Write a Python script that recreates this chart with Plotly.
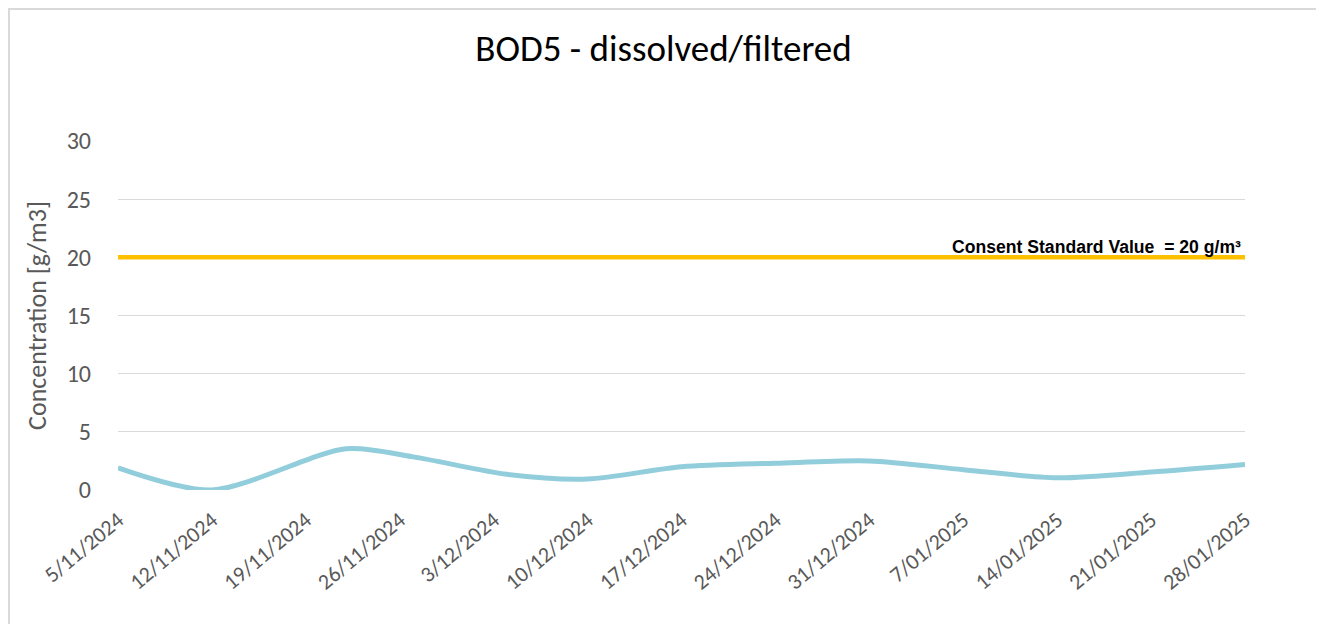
import plotly.graph_objects as go

# sample dates and BOD5 values (g/m3)
dates = ["2024-11-05", "2024-11-12", "2024-11-22", "2024-11-27", "2024-12-04",
         "2024-12-10", "2024-12-17", "2024-12-24", "2024-12-31", "2025-01-07",
         "2025-01-14", "2025-01-21", "2025-01-28"]
bod5 = [1.9, 0.0, 3.55, 2.85, 1.35, 0.95, 2.0, 2.3, 2.5, 1.75, 1.05, 1.55, 2.2]

consent_dates = ["2024-11-05", "2025-01-28"]
consent_value = [20, 20]

tick_dates = ["2024-11-05", "2024-11-12", "2024-11-19", "2024-11-26", "2024-12-03",
              "2024-12-10", "2024-12-17", "2024-12-24", "2024-12-31", "2025-01-07",
              "2025-01-14", "2025-01-21", "2025-01-28"]
tick_labels = ["5/11/2024", "12/11/2024", "19/11/2024", "26/11/2024", "3/12/2024",
               "10/12/2024", "17/12/2024", "24/12/2024", "31/12/2024", "7/01/2025",
               "14/01/2025", "21/01/2025", "28/01/2025"]

FONT = "Calibri, Carlito, Lato, 'Open Sans', sans-serif"
GREY = "#595959"

# page has an 8px body margin, so the figure is laid out 8px up/left
W, H = 1316, 616
L, R, T, B = 110, 79, 133, 134
PW, PH = W - L - R, H - T - B

fig = go.Figure()

fig.add_trace(go.Scatter(
    x=consent_dates, y=consent_value, mode="lines",
    line=dict(color="#FFC000", width=4.5), showlegend=False, hoverinfo="skip"))

fig.add_trace(go.Scatter(
    x=dates, y=bod5, mode="lines",
    line=dict(color="#92CDDC", width=5, shape="spline", smoothing=0.8),
    showlegend=False))

fig.add_annotation(
    x=consent_dates[-1], y=consent_value[-1], xref="x", yref="y",
    text="<b>Consent Standard Value  = 20 g/m³</b>", showarrow=False,
    xanchor="right", yanchor="bottom", xshift=-2, yshift=-2,
    font=dict(family="Arial, 'Liberation Sans', sans-serif", size=17.6, color="#000000"))

# outer chart border
fig.add_shape(type="rect", xref="paper", yref="paper",
              x0=(1 - L) / PW, x1=(1313 - L) / PW,
              y0=(PH + T - 640) / PH, y1=(PH + T - 1) / PH,
              line=dict(color="#D9D9D9", width=2), layer="below")

fig.update_layout(
    width=W, height=H,
    margin=dict(l=L, r=R, t=T, b=B),
    paper_bgcolor="white", plot_bgcolor="white",
    title=dict(text="BOD5 - dissolved/filtered", x=655.5 / W, xanchor="center",
               y=1 - 40 / H, yanchor="middle",
               font=dict(family=FONT, size=37, color="#000000")),
    font=dict(family=FONT, color=GREY),
    xaxis=dict(
        type="date", range=["2024-11-05", "2025-01-28"],
        tickvals=tick_dates, ticktext=tick_labels, tickangle=-40,
        tickfont=dict(size=22, color=GREY), showgrid=False, zeroline=False,
        showline=False, ticks="", ticklabelstandoff=12),
    yaxis=dict(
        range=[0, 30], dtick=5, showgrid=True, gridcolor="#D9D9D9", gridwidth=1,
        zeroline=False, showline=False, ticks="",
        tickfont=dict(size=24, color=GREY), ticklabelstandoff=26,
        title=dict(text="Concentration [g/m3]", font=dict(size=26, color=GREY),
                   standoff=12)),
)

fig.write_html("out.html")
